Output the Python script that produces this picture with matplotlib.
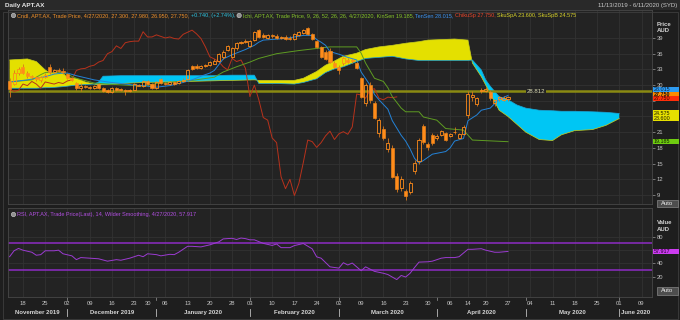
import matplotlib
matplotlib.use("Agg")
import matplotlib.pyplot as plt
import matplotlib.transforms as mtrans
from matplotlib.patches import Rectangle, Circle
import numpy as np

# ---------------- data ----------------
opens = [30.8,30.3,32.3,33.4,32.4,31.7,31.5,30.9,31.6,33.5,32.5,32.9,32.7,32.2,31.3,30.4,29.4,29.8,29.6,29.4,
         30.2,29.4,29.1,28.6,29.5,29.0,29.1,28.8,29.1,30.1,29.9,30.7,30.2,29.4,31.1,30.4,30.2,30.5,30.4,30.8,
         31.2,33.6,33.7,33.2,33.6,33.8,34.1,34.7,35.4,36.7,35.4,37.0,38.1,38.3,37.5,38.7,40.5,39.6,39.0,39.5,
         39.4,39.0,39.2,39.0,38.9,39.5,39.9,40.9,39.7,38.4,37.3,36.4,36.6,34.3,33.4,34.2,34.8,34.6,34.2,31.3,
         26.6,30.0,26.6,20.8,21.7,17.8,18.0,12.6,10.3,9.8,9.6,13.5,15.4,22.1,18.7,20.4,19.8,20.4,20.8,20.2,
         21.0,19.9,20.6,24.2,27.8,26.3,28.8,28.9,28.7,26.6,27.3,27.2,27.3]
highs = [31.3,32.8,33.5,34.0,32.7,32.0,31.8,31.8,32.3,34.0,33.1,33.2,33.2,32.4,31.5,30.6,30.4,30.0,29.9,30.0,
         30.4,29.6,29.3,29.7,29.6,29.4,29.3,29.2,30.4,30.3,31.0,30.9,30.4,30.8,31.4,30.6,30.7,30.7,31.0,31.3,
         33.0,33.9,34.0,33.8,34.0,34.6,34.9,36.2,36.7,37.7,37.2,38.3,38.5,38.8,38.6,40.4,40.8,39.9,39.8,39.8,
         39.7,39.4,39.5,39.3,39.9,40.3,40.7,41.15,39.9,38.6,37.5,36.8,37.0,34.6,33.8,35.3,35.1,35.0,34.4,31.6,
         30.4,30.6,27.0,23.8,22.2,19.8,18.5,13.2,12.6,10.2,11.6,15.6,19.9,22.5,19.2,20.8,20.6,21.5,21.0,20.9,
         21.9,20.8,22.3,28.8,28.8,27.7,29.5,29.6,29.0,27.4,28.0,27.9,27.98]
lows = [27.8,30.0,32.0,32.1,31.3,31.2,30.8,30.6,31.4,32.2,32.3,32.5,32.2,31.2,30.8,29.1,28.9,29.4,29.2,29.2,
        29.3,28.6,28.5,28.5,28.9,28.8,28.2,28.6,29.0,29.8,29.7,30.0,29.2,29.2,30.2,30.0,30.0,30.1,30.3,30.6,
        31.0,32.9,33.0,33.0,33.4,33.6,34.0,34.5,35.0,36.5,35.1,36.8,37.8,38.0,37.3,38.5,39.0,39.0,38.8,39.0,
        38.8,38.8,38.7,38.6,38.7,39.3,39.7,39.5,38.7,37.1,35.2,34.8,34.2,33.2,32.2,33.9,34.2,34.3,33.0,27.5,
        26.0,26.5,23.5,20.0,19.5,17.3,12.2,9.6,9.8,8.0,9.2,13.0,15.0,18.8,17.6,18.5,19.5,20.2,19.4,20.0,
        20.6,19.7,20.4,23.8,27.0,26.0,28.5,28.6,27.2,26.1,27.0,26.9,26.95]
closes = [29.3,32.4,33.1,32.4,31.7,31.5,31.1,31.6,32.0,32.5,32.9,32.7,32.5,31.3,31.0,29.4,29.8,29.6,29.4,29.9,
          29.4,28.8,28.6,29.5,29.0,29.2,28.8,29.0,30.2,29.9,30.7,30.2,29.4,30.6,30.4,30.2,30.5,30.3,30.8,31.0,
          32.8,33.1,33.2,33.6,33.8,34.4,34.7,36.0,36.4,37.5,37.0,38.1,38.3,38.4,38.4,40.2,39.2,39.2,39.6,39.3,
          39.0,39.2,38.9,38.8,39.7,40.1,40.5,39.8,38.9,37.3,35.4,35.0,34.5,33.5,32.9,35.1,34.5,34.8,33.2,27.8,
          30.0,27.2,23.8,23.3,19.9,19.0,12.5,10.2,12.0,8.9,11.2,15.2,19.5,19.2,18.1,19.0,20.3,21.2,19.6,20.7,
          21.1,20.6,22.0,28.3,28.1,27.5,29.1,29.3,27.5,27.2,27.7,27.6,27.75]

tenkan_idx = [0,4,8,10,12,13,15,17,19,22,25,28,30,33,36,39,41,43,45,46,48,50,53,55,56,57,62,64,66,68,
              69,70,71,72,74,76,78,79,81,82,83,85,86,88,89,90,91,92,93,95,98,99,100,102,103,105,106,108,110,112]
tenkan_val = [30.6,31.0,31.6,32.1,32.3,32.3,31.8,31.4,31.0,30.6,30.3,30.0,29.9,29.6,29.9,30.5,31.0,31.7,32.3,32.8,
              35.0,35.8,36.8,37.6,38.2,38.6,38.9,39.2,39.5,39.5,38.7,38.2,37.6,36.4,35.9,35.3,34.8,32.5,30.0,28.2,
              27.2,25.4,23.2,20.4,19.3,17.8,16.0,15.1,15.6,16.8,17.3,18.0,19.3,19.8,23.2,24.3,25.2,25.6,27.3,28.015]

kijun_idx = [0,5,7,8,12,15,19,22,26,30,33,37,41,46,48,51,54,56,60,65,69,72,78,79,80,82,84,85,86,88,89,92,93,96,98,102,104,112]
kijun_val = [30.6,31.0,32.0,32.4,32.4,31.3,30.4,30.2,30.0,29.8,30.3,30.6,30.9,31.5,32.5,33.5,34.4,35.1,36.0,36.6,
             37.0,37.3,37.3,36.1,34.2,31.3,30.7,29.5,27.8,25.6,24.9,24.9,23.9,23.3,21.7,21.4,19.5,19.185]

cloud_idx = [0,4,6,8,9,12,13,15,17,19,20,21,25,30,35,40,45,50,55,56,60,64,66,69,71,73,75,78,80,83,86,89,92,94,
             100,103,104,106,107,108,110,112,114,116,119,122,124,127,131,134,137]
span_a = [34.8,35.0,34.5,32.9,32.3,32.3,31.4,31.3,30.6,30.2,30.0,30.1,30.3,30.5,30.6,30.7,30.8,30.9,31.0,30.9,
          30.9,30.9,31.3,32.6,33.8,34.6,35.5,36.1,36.8,37.3,37.6,38.0,38.3,38.6,38.8,38.6,34.2,31.6,30.0,28.4,
          25.2,24.0,22.5,21.0,19.6,19.4,20.5,21.3,21.5,22.3,23.6]
span_b = [29.4,29.4,29.4,29.5,29.5,29.7,29.8,30.0,30.1,30.2,30.6,31.7,31.8,31.8,31.8,31.8,31.8,31.9,31.9,30.3,
          30.3,30.2,30.5,31.2,32.4,33.1,33.5,34.5,35.1,35.3,35.5,35.0,34.7,34.7,34.7,34.7,34.8,32.9,31.0,29.8,
          27.8,27.2,26.2,25.6,25.2,25.1,25.0,25.0,24.9,24.8,24.575]

rsi_idx = [0,1,2,3,5,6,7,8,10,11,12,14,15,16,18,20,22,24,25,27,29,30,31,33,34,36,37,38,40,41,43,45,47,48,50,51,
           52,53,54,55,57,59,60,61,63,64,66,68,69,70,72,74,75,76,77,79,80,82,84,85,87,88,89,90,91,92,94,95,97,98,
           100,101,103,104,106,107,109,110,112]
rsi_val = [50,58.9,62.4,59.8,56.7,52.2,53.1,58.9,58.9,59.8,54.4,51.3,45.6,48.7,47.8,46.9,43.3,45.6,44.7,47.8,
           52.2,50,54.4,53.1,51.3,53.6,53.1,56.7,65.6,65.6,64.7,67.8,72.2,76.7,77.6,75.8,78,77.1,75.3,75.3,
           70,66.9,69.1,63.6,63.6,66.7,69.8,61.8,49.8,47.8,34.8,32.9,41,37.6,40.5,29,34.8,28,25.2,23.3,
           15.7,21.9,19.5,25.2,33.8,41.9,42.4,43.3,47.8,48.7,48.7,50,61.1,61.1,62,59.8,56.7,56.7,57.917]

week_idx = [3,8,13,18,23,28,31,35,40,45,50,54,59,64,69,74,79,84,89,94,99,103,107,112,117,122,127,132,137,142]
week_labels = ["18","25","02","09","16","23","30","06","13","20","28","03","10","17","24",
               "02","09","16","23","30","06","14","20","27","04","11","18","25","01","09"]
month_start_idx = [13,33,54,74,96,116,137]
month_names = ["November 2019","December 2019","January 2020","February 2020","March 2020",
               "April 2020","May 2020","June 2020"]
price_ticks = [9,12,15,18,21,24,27,30,33,36,39]
price_tick_labels = ["9","12","15","18","21","","","30","33","36","39"]
rsi_ticks = [20,40,60,80]
rsi_tick_labels = ["20","40","","80"]
hline_level = 28.812
CHIKOU_SHIFT = 25

# ---------------- style ----------------
W, H = 680, 320
FONT = ['Liberation Sans', 'DejaVu Sans']
plt.rcParams['font.family'] = FONT
BG = '#1e1e1e'
PANEL = '#232323'
GRID = '#323232'
SPINE = '#474747'
TXT = '#c4c4c4'
ORANGE = '#ff8c1a'
WICK = '#d7781c'
BLUE = '#2383d8'
GREEN = '#5e9c22'
RED = '#b8321c'
YEL = '#e4e000'
CYAN = '#00c6f4'
PURPLE = '#9c3bd2'

X0, DX = 9.6, 4.45          # pixel of index 0, pixels per trading day
PY39, PPU = 38.0, 5.233      # pixel of price 39, pixels per price unit
RY80, RPU = 236.7, 0.667     # pixel of RSI 80, pixels per RSI unit

def fbox(l, t, r, b):
    return [l / W, 1 - b / H, (r - l) / W, (b - t) / H]

def px2price(y):
    return 39 - (y - PY39) / PPU

def price2px(p):
    return PY39 + (39 - p) * PPU

def px2rsi(y):
    return 80 - (y - RY80) / RPU

def rsi2px(v):
    return RY80 + (80 - v) * RPU

fig = plt.figure(figsize=(W / 100, H / 100), dpi=100, facecolor=BG)

# title strip
fig.add_artist(Rectangle((0, 1 - 10 / H), 1, 10 / H, transform=fig.transFigure, fc='#292929', ec='none'))
fig.text(5 / W, 1 - 5.5 / H, 'Daily APT.AX', color='#e6e6e6', fontsize=4.6, fontweight='bold', va='center')
fig.text(677 / W, 1 - 5.5 / H, '11/13/2019 - 6/11/2020 (SYD)', color='#c8c8c8', fontsize=4.3, va='center', ha='right')

xl = ((8 - X0) / DX, (652 - X0) / DX)

def style_axes(a):
    a.set_facecolor(PANEL)
    for s in a.spines.values():
        s.set_color(SPINE)
        s.set_linewidth(0.6)
    a.set_xlim(*xl)
    a.set_xticks(week_idx)
    a.tick_params(axis='x', length=0, labelbottom=False)
    a.tick_params(axis='y', left=False, labelleft=False, right=True, labelright=True,
                  length=2, width=0.5, color='#9a9a9a', pad=1.2, labelsize=4.2, labelcolor=TXT)
    a.grid(True, color=GRID, linewidth=0.6)
    a.set_axisbelow(True)

# ---------------- main panel ----------------
ax = fig.add_axes(fbox(8, 10, 652, 204))
style_axes(ax)
ax.set_ylim(px2price(204), px2price(10))
ax.set_yticks(price_ticks)
ax.set_yticklabels(price_tick_labels)

ci = np.array(cloud_idx, dtype=float)
sa = np.array(span_a)
sb = np.array(span_b)
ax.fill_between(ci, sa, sb, where=sa >= sb, interpolate=True, color=YEL, lw=0, zorder=1)
ax.fill_between(ci, sa, sb, where=sa < sb, interpolate=True, color=CYAN, lw=0, zorder=1)
ax.plot(ci, sa, color='#c9cf1c', lw=0.5, zorder=1.5)
ax.plot(ci, sb, color='#1aa6d8', lw=0.5, zorder=1.5)

ax.axhline(hline_level, color='#8a8a12', lw=1.8, zorder=2)
ax.text((527 - X0) / DX, hline_level, f'{hline_level:.3f}', color='#d6d6b0', fontsize=4.3, va='center', ha='left',
        zorder=7, bbox=dict(facecolor=PANEL, edgecolor='none', pad=0.4))

o = np.array(opens); h = np.array(highs); l = np.array(lows); c = np.array(closes)
idx = np.arange(len(c))
ax.plot(idx[:len(c) - CHIKOU_SHIFT], c[CHIKOU_SHIFT:], color=RED, lw=0.7, zorder=3)
ax.plot(kijun_idx, kijun_val, color=GREEN, lw=0.7, zorder=3)
ax.plot(tenkan_idx, tenkan_val, color=BLUE, lw=0.7, zorder=3)

top = np.maximum(o, c); bot = np.minimum(o, c)
ax.vlines(idx, l, bot, color=WICK, lw=0.6, zorder=4)
ax.vlines(idx, top, h, color=WICK, lw=0.6, zorder=4)
up = c >= o
hgt = np.maximum(top - bot, 0.08)
ax.bar(idx[~up], hgt[~up], bottom=bot[~up], width=0.68, color=ORANGE, edgecolor=ORANGE, lw=0.4, zorder=5)
ax.bar(idx[up], hgt[up], bottom=bot[up], width=0.68, facecolor='none', edgecolor=ORANGE, lw=0.6, zorder=5)

# legend row (main)
renderer = fig.canvas.get_renderer()

def text_w(s, size, weight='normal'):
    t1 = fig.text(0, 0, s + '|', fontsize=size, fontweight=weight)
    t2 = fig.text(0, 0, '|', fontsize=size, fontweight=weight)
    w = t1.get_window_extent(renderer).width - t2.get_window_extent(renderer).width
    t1.remove(); t2.remove()
    return w

def seq_text(x, y, parts, size):
    for s, col in parts:
        if s == '@icon':
            fig.add_artist(Circle((x + 2.5, H - y), 2.2, transform=None, fc='#8f8f8f', ec='#d0d0d0', lw=0.4))
            x += 6
            continue
        fig.text(x / W, 1 - y / H, s, color=col, fontsize=size, va='center', ha='left')
        x += text_w(s, size)
    return x

LS = 4.0
seq_text(11, 15.5, [('@icon', None),
                    ('Cndl, APT.AX, Trade Price, 4/27/2020, 27.300, 27.980, 26.950, 27.750, ', '#f0902a'),
                    ('+0.740, (+2.74%), ', '#2ec4e0'),
                    ('@icon', None),
                    ('Ichi, APT.AX, Trade Price, 9, 26, 52, 26, 26, 4/27/2020, KinSen 19.185, ', '#86c52a'),
                    ('TenSen 28.015, ', '#3a92f0'),
                    ('ChikuSp 27.750, ', '#e8442a'),
                    ('SkuSpA 23.600, SkuSpB 24.575', '#d8d22a')], LS)

# ---------------- RSI panel ----------------
ar = fig.add_axes(fbox(8, 208, 652, 297))
style_axes(ar)
ar.set_ylim(px2rsi(297), px2rsi(208))
ar.set_yticks(rsi_ticks)
ar.set_yticklabels(rsi_tick_labels)
ar.axhline(70, color='#8e2cc4', lw=1.1, zorder=2)
ar.axhline(30, color='#8e2cc4', lw=1.1, zorder=2)
ar.plot(rsi_idx, rsi_val, color=PURPLE, lw=0.7, zorder=3)
seq_text(11, 214.5, [('@icon', None),
                     ('RSI, APT.AX, Trade Price(Last), 14, Wilder Smoothing, 4/27/2020, 57.917', '#b14fe0')], LS)

# ---------------- right-hand labels ----------------
def side_label(yc, hgt, lines, fc, tc='#101010', bold=False):
    fig.add_artist(Rectangle((652.5 / W, 1 - (yc + hgt / 2) / H), 26 / W, hgt / H, transform=fig.transFigure,
                             fc=fc, ec='none', zorder=10))
    n = len(lines)
    for k, s in enumerate(lines):
        yy = yc - hgt / 2 + (k + 0.5) * hgt / n
        fig.text(654 / W, 1 - yy / H, s, color=tc, fontsize=3.9, va='center', ha='left',
                 fontweight='bold' if bold else 'normal', zorder=11)

side_label(89.4, 4.6, ['28.015'], '#2e9cf2', '#0b2440')
side_label(94.0, 4.6, ['27.750'], '#ff8c00', '#111111', bold=True)
side_label(98.6, 4.6, ['27.750'], '#ff2e0a', '#2a0a00')
side_label(price2px(24.1), 11, ['24.575', '23.600'], '#e6e000', '#202000')
side_label(price2px(19.185), 5.4, ['19.185'], '#6fcc10', '#102000')
side_label(rsi2px(57.917), 5.4, ['57.917'], '#cc3cf0', '#200028')

for yy, s in [(24, 'Price'), (31, 'AUD'), (222, 'Value'), (229.5, 'AUD')]:
    fig.text(656.5 / W, 1 - yy / H, s, color='#d4d4d4', fontsize=4.3, fontweight='bold', va='center')

for yy in [203.5, 291]:
    fig.add_artist(Rectangle((657 / W, 1 - (yy + 3.6) / H), 21 / W, 7.2 / H, transform=fig.transFigure,
                             fc='#4e4e4e', ec='#9a9a9a', lw=0.4, zorder=10))
    fig.text(667.5 / W, 1 - yy / H, 'Auto', color='#f0f0f0', fontsize=4.2, va='center', ha='center', zorder=11)

# ---------------- date axis ----------------
bt = mtrans.blended_transform_factory(ar.transData, fig.transFigure)
for i, s in zip(week_idx, week_labels):
    ar.text(i, 1 - 303.5 / H, s, transform=bt, color=TXT, fontsize=4.2, ha='center', va='center', clip_on=False)
bounds = [xl[0]] + month_start_idx + [xl[1]]
for k, name in enumerate(month_names):
    mid = (bounds[k] + bounds[k + 1]) / 2
    ar.text(mid, 1 - 312.5 / H, name, transform=bt, color='#d6d6d6', fontsize=4.3, fontweight='bold',
            ha='center', va='center', clip_on=False)
for i in month_start_idx:
    ar.plot([i, i], [1 - 309 / H, 1 - 316 / H], transform=bt, color='#bdbdbd', lw=0.6, clip_on=False)
    ar.plot([i, i], [1 - 297 / H, 1 - 300 / H], transform=bt, color='#9a9a9a', lw=0.5, clip_on=False)

# outer frame
fig.add_artist(Rectangle((2.5 / W, 1.5 / H), 675.5 / W, 307 / H, transform=fig.transFigure,
                         fc='none', ec='#3e3e3e', lw=0.6))

fig.savefig('out.png', dpi=100, facecolor=BG)
